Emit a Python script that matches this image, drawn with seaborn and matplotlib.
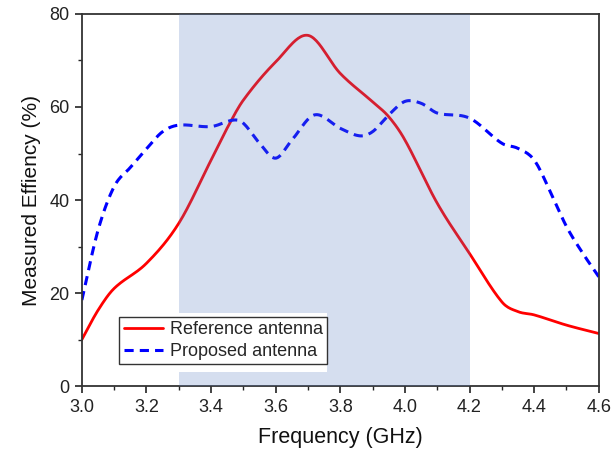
import matplotlib
matplotlib.use("Agg")
import matplotlib.pyplot as plt
import seaborn as sns
import pandas as pd
import numpy as np
from matplotlib.patches import Rectangle
from matplotlib.ticker import MultipleLocator

ref_freq = [3.0, 3.05, 3.1, 3.2, 3.3, 3.4, 3.45, 3.5, 3.6, 3.7, 3.8, 3.9, 3.95, 4.0, 4.1, 4.2, 4.3, 4.35, 4.4, 4.5, 4.6]
ref_eff = [10.0, 16.3, 21.0, 26.4, 35.0, 48.6, 55.5, 61.5, 69.7, 75.4, 67.2, 61.1, 57.9, 52.9, 39.3, 28.5, 18.1, 16.0, 15.3, 13.1, 11.3]

prop_freq = [3.0, 3.05, 3.1, 3.15, 3.2, 3.25, 3.3, 3.4, 3.47, 3.5, 3.55, 3.6, 3.65, 3.72, 3.8, 3.86, 3.9, 3.95, 4.0, 4.05, 4.1, 4.2, 4.3, 4.35, 4.4, 4.45, 4.5, 4.55, 4.6]
prop_eff = [18.5, 33.5, 42.9, 47.0, 51.0, 54.7, 56.1, 55.8, 57.2, 56.5, 52.2, 49.0, 52.9, 58.3, 55.4, 53.8, 54.7, 58.3, 61.2, 60.8, 58.7, 57.6, 52.2, 51.1, 48.6, 41.8, 34.3, 28.6, 23.5]

band = [3.3, 4.2]
labels = ["Reference antenna", "Proposed antenna"]

sns.set_style("ticks")
plt.rcParams['font.family'] = ['Liberation Sans', 'DejaVu Sans']

fig = plt.figure(figsize=(6.11, 4.51), dpi=100)
ax = fig.add_axes([0.134, 0.144, 0.846, 0.825])

def smooth(x, y, n=400):
    x = np.asarray(x, float); y = np.asarray(y, float)
    xs = np.linspace(x.min(), x.max(), n)
    m = np.zeros_like(y)
    m[0] = (y[1] - y[0]) / (x[1] - x[0])
    m[-1] = (y[-1] - y[-2]) / (x[-1] - x[-2])
    for i in range(1, len(x) - 1):
        m[i] = (y[i + 1] - y[i - 1]) / (x[i + 1] - x[i - 1])
    out = []
    for xi in xs:
        i = np.searchsorted(x, xi) - 1
        i = max(0, min(i, len(x) - 2))
        h = x[i + 1] - x[i]
        t = (xi - x[i]) / h
        h00 = 2*t**3 - 3*t**2 + 1
        h10 = t**3 - 2*t**2 + t
        h01 = -2*t**3 + 3*t**2
        h11 = t**3 - t**2
        out.append(h00*y[i] + h10*h*m[i] + h01*y[i + 1] + h11*h*m[i + 1])
    return xs, np.array(out)

rx, ry = smooth(ref_freq, ref_eff)
px, py = smooth(prop_freq, prop_eff)
df_r = pd.DataFrame({"f": rx, "e": ry})
df_p = pd.DataFrame({"f": px, "e": py})

sns.lineplot(data=df_r, x="f", y="e", ax=ax, color="#ff0000", lw=2.0, label=labels[0], zorder=2)
sns.lineplot(data=df_p, x="f", y="e", ax=ax, color="#0000ff", lw=2.2, label=labels[1], zorder=2)
ax.lines[1].set_dashes([3, 2])

ax.axvspan(band[0], band[1], color=(88/255, 124/255, 192/255), alpha=0.25, lw=0, zorder=3)

ax.set_xlim(3.0, 4.6)
ax.set_ylim(0, 80)
ax.xaxis.set_major_locator(MultipleLocator(0.2))
ax.xaxis.set_minor_locator(MultipleLocator(0.1))
ax.yaxis.set_major_locator(MultipleLocator(20))
ax.yaxis.set_minor_locator(MultipleLocator(10))
ax.tick_params(which="major", direction="out", length=5, width=1.2, labelsize=13, colors="#222222", pad=4)
ax.tick_params(which="minor", direction="out", length=3, width=1.0)
ax.xaxis.set_major_formatter(matplotlib.ticker.FormatStrFormatter("%.1f"))
for s in ax.spines.values():
    s.set_linewidth(1.3)
    s.set_color("#333333")

ax.set_xlabel("Frequency (GHz)", fontsize=15.5, labelpad=8, color="#111111")
ax.set_ylabel("Measured Effiency (%)", fontsize=15, labelpad=6, color="#111111")

# white patch behind legend (covers the shaded band only)
ax.add_patch(Rectangle((0.186, 0.037), 0.288, 0.16, transform=ax.transAxes,
                       facecolor="white", edgecolor="none", zorder=3.5))
leg = ax.legend(loc="lower left", bbox_to_anchor=(0.072, 0.058), fontsize=13,
                frameon=True, fancybox=False, framealpha=1, edgecolor="#333333",
                borderpad=0.25, labelspacing=0.25, handlelength=2.2, handletextpad=0.35,
                borderaxespad=0)
leg.get_frame().set_linewidth(1.0)
leg.set_zorder(5)

fig.savefig("out.png", dpi=100)
